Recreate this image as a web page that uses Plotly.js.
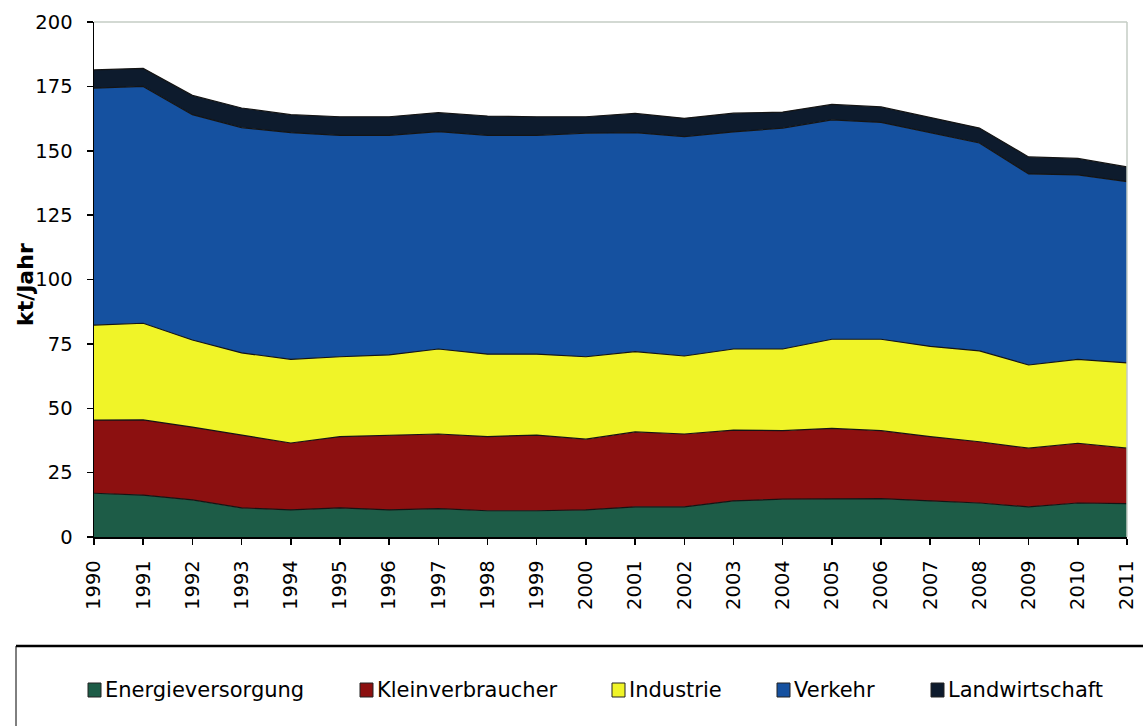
<!DOCTYPE html>
<html>
<head>
<meta charset="utf-8">
<script src="https://cdn.plot.ly/plotly-3.0.1.min.js"></script>
<style>html,body{margin:0;padding:0;background:#fff;}#chart{width:1143px;height:726px;}</style>
</head>
<body>
<div id="chart"></div>
<script>
// ---- data (kt/Jahr) ----
const years = [1990,1991,1992,1993,1994,1995,1996,1997,1998,1999,2000,2001,2002,2003,2004,2005,2006,2007,2008,2009,2010,2011];
const energieversorgung = [17.0,16.3,14.4,11.3,10.5,11.3,10.5,11.0,10.2,10.2,10.5,11.7,11.7,14.0,14.7,14.7,14.9,14.0,13.2,11.7,13.2,13.0];
const kleinverbraucher  = [28.4,29.2,28.3,28.3,26.0,27.7,28.9,29.0,28.8,29.4,27.5,29.1,28.3,27.5,26.6,27.5,26.4,25.0,23.8,22.8,23.2,21.5];
const industrie         = [36.9,37.5,33.8,31.9,32.5,31.0,31.3,33.0,32.0,31.4,32.0,31.2,30.3,31.5,31.7,34.6,35.5,35.0,35.3,32.3,32.6,33.1];
const verkehr           = [92.0,92.0,87.5,87.5,88.0,86.0,85.3,84.4,85.0,85.0,86.8,85.0,85.2,84.3,85.8,85.2,84.2,83.0,80.7,74.2,71.6,70.4];
const landwirtschaft    = [7.1,7.0,7.5,7.6,7.0,7.2,7.2,7.4,7.5,7.2,6.4,7.5,7.1,7.3,6.2,6.0,6.0,6.0,5.8,6.6,6.4,5.7];
const seriesNames = ["Energieversorgung","Kleinverbraucher","Industrie","Verkehr","Landwirtschaft"];
const yTickVals = [0,25,50,75,100,125,150,175,200];
const yTitle = "kt/Jahr";

// ---- styles ----
const colors = ["#1d5c47","#8c1010","#f0f428","#1551a0","#0d1b2d"];
const seriesValues = [energieversorgung,kleinverbraucher,industrie,verkehr,landwirtschaft];

const traces = seriesValues.map((vals,i)=>({
  type:"scatter", mode:"lines", x:years, y:vals, name:seriesNames[i],
  stackgroup:"one", fillcolor:colors[i],
  line:{color:"#141414", width:1.2}, showlegend:false, hoverinfo:"x+y+name"
}));

// plot area in pixels
const L=94, R=1127, T=22, B=537;
const px = v => (v-L)/(R-L);
const py = v => (B-v)/(B-T);

const shapes = [
  {type:"line", xref:"paper", yref:"paper", x0:0, x1:1, y0:1, y1:1, line:{color:"#c4ccc4", width:1.5}},
  {type:"line", xref:"paper", yref:"paper", x0:1, x1:1, y0:0, y1:1, line:{color:"#c4ccc4", width:1.5}},
  // legend box
  {type:"rect", xref:"paper", yref:"paper", x0:px(16), x1:px(1170), y0:py(760), y1:py(646), line:{color:"#000", width:1}},
  {type:"line", xref:"paper", yref:"paper", x0:px(16), x1:px(1170), y0:py(646), y1:py(646), line:{color:"#000", width:2.5}}
];
const annotations = [
  {xref:"paper", yref:"paper", x:px(25), y:py(285), xanchor:"center", yanchor:"middle", textangle:-90,
   text:"<b>"+yTitle+"</b>", showarrow:false, font:{family:"DejaVu Sans", size:22, color:"#000"}}
];
const swatchLeft = [88,360,612,777,931];
seriesNames.forEach((n,i)=>{
  const x0 = swatchLeft[i];
  shapes.push({type:"rect", xref:"paper", yref:"paper", x0:px(x0), x1:px(x0+13), y0:py(697), y1:py(683),
    fillcolor:colors[i], line:{color:"#222", width:1}});
  annotations.push({xref:"paper", yref:"paper", x:px(x0+15), y:py(690), xanchor:"left", yanchor:"middle",
    text:n, showarrow:false, font:{family:"DejaVu Sans", size:21, color:"#000"}});
});

const layout = {
  width:1143, height:726,
  margin:{l:L, r:1143-R, t:T, b:726-B, pad:0},
  paper_bgcolor:"#fff", plot_bgcolor:"#fff",
  font:{family:"DejaVu Sans", size:19, color:"#000"},
  showlegend:false,
  xaxis:{type:"linear", range:[1990,2011], tickmode:"array", tickvals:years, ticktext:years.map(String),
    tickangle:-90, ticks:"outside", ticklen:6, tickwidth:1.5, tickcolor:"#000",
    showline:true, linecolor:"#000", linewidth:1.5, showgrid:false, zeroline:false, ticklabelstandoff:8,
    tickfont:{family:"DejaVu Sans", size:19.5, color:"#000"}},
  yaxis:{range:[0,200], tickmode:"array", tickvals:yTickVals, ticks:"outside", ticklen:6, tickwidth:1.5, tickcolor:"#000",
    showline:true, linecolor:"#000", linewidth:1.5, showgrid:false, zeroline:false, ticklabelstandoff:10,
    tickfont:{family:"DejaVu Sans", size:19.5, color:"#000"}},
  shapes:shapes, annotations:annotations
};

Plotly.newPlot("chart", traces, layout, {displayModeBar:false, staticPlot:true});
</script>
</body>
</html>
